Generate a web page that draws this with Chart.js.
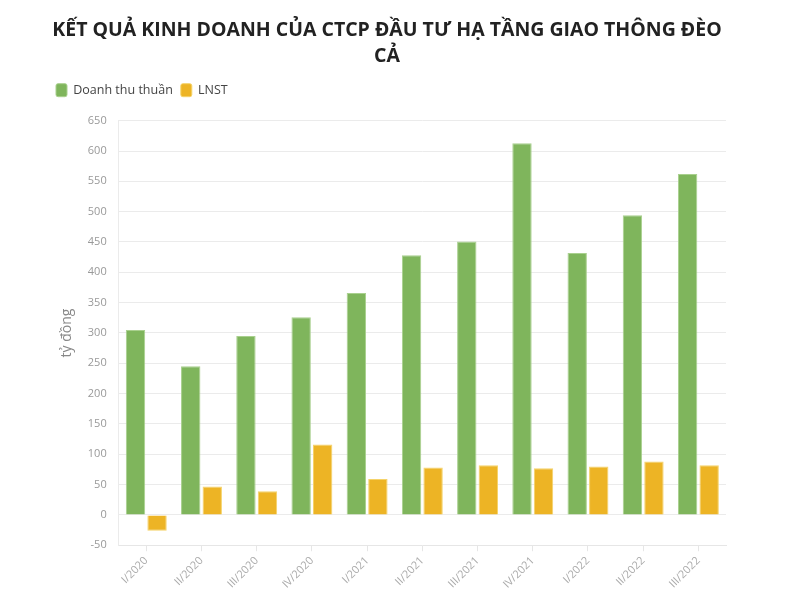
<!DOCTYPE html>
<html><head><meta charset="utf-8">
<script src="https://cdn.jsdelivr.net/npm/chart.js@4/dist/chart.umd.min.js"></script>
<style>html,body{margin:0;padding:0;background:#fff}#wrap{width:812px;height:614px}</style>
</head><body><div id="wrap"><canvas id="c"></canvas></div>
<script>
const categories = ["I/2020","II/2020","III/2020","IV/2020","I/2021","II/2021","III/2021","IV/2021","I/2022","II/2022","III/2022"];
const revenue = [305, 245, 295, 326, 366, 428, 451, 613, 432, 494, 562];
const profit = [-26, 47, 39, 116, 59, 78, 82, 77, 80, 88, 82];
const titleLines = ["KẾT QUẢ KINH DOANH CỦA CTCP ĐẦU TƯ HẠ TẦNG GIAO THÔNG ĐÈO", "CẢ"];
const yTitle = "tỷ đồng";

const legendMargin = {
  id: 'legendMargin',
  beforeInit(chart) {
    const fit = chart.legend.fit;
    chart.legend.fit = function () { fit.bind(this)(); this.height += 14; };
  }
};

new Chart(document.getElementById('c'), {
  type: 'bar',
  plugins: [legendMargin],
  data: {
    labels: categories,
    datasets: [
      {label: "Doanh thu thuần", data: revenue, backgroundColor: '#7fb55c', borderColor:'#a9d08e', borderWidth:1},
      {label: "LNST", data: profit, backgroundColor: '#edb425', borderColor:'#f5d36a', borderWidth:1}
    ]
  },
  options: {
    responsive: true, maintainAspectRatio: false, animation: false,
    layout: {padding: {left: 48, right: 86, top: 10, bottom: 20}},
    datasets: {bar: {categoryPercentage: 0.78, barPercentage: 0.9}},
    plugins: {
      title: {display: true, text: titleLines, color: '#222', font: {family: 'Open Sans', size: 19.5, weight: 'bold', lineHeight: 1.3}, padding: {top: 8, bottom: 7}},
      legend: {position: 'top', align: 'start', labels: {boxWidth: 11, boxHeight: 13, color: '#444', font: {family: 'Open Sans', size: 12.5}, padding: 8, useBorderRadius: true, borderRadius: 2}},
      tooltip: {enabled: false}
    },
    scales: {
      x: {
        grid: {display: true, drawOnChartArea: false, offset: false, color: '#e6e6e6', tickLength: 6},
        border: {color: '#e6e6e6'},
        ticks: {color: '#aaa', font: {family: 'Open Sans', size: 11}, maxRotation: 45, minRotation: 45}
      },
      y: {
        min: -50, max: 650,
        ticks: {stepSize: 50, color: '#999', font: {family: 'Open Sans', size: 11}, padding: 12},
        grid: {color: '#ebebeb', drawTicks: false},
        border: {display: true, color: '#ebebeb'},
        title: {display: true, text: yTitle, color: '#888', font: {family: 'Open Sans', size: 14}, padding: {top: 11, bottom: 0}}
      }
    }
  }
});
</script></body></html>
